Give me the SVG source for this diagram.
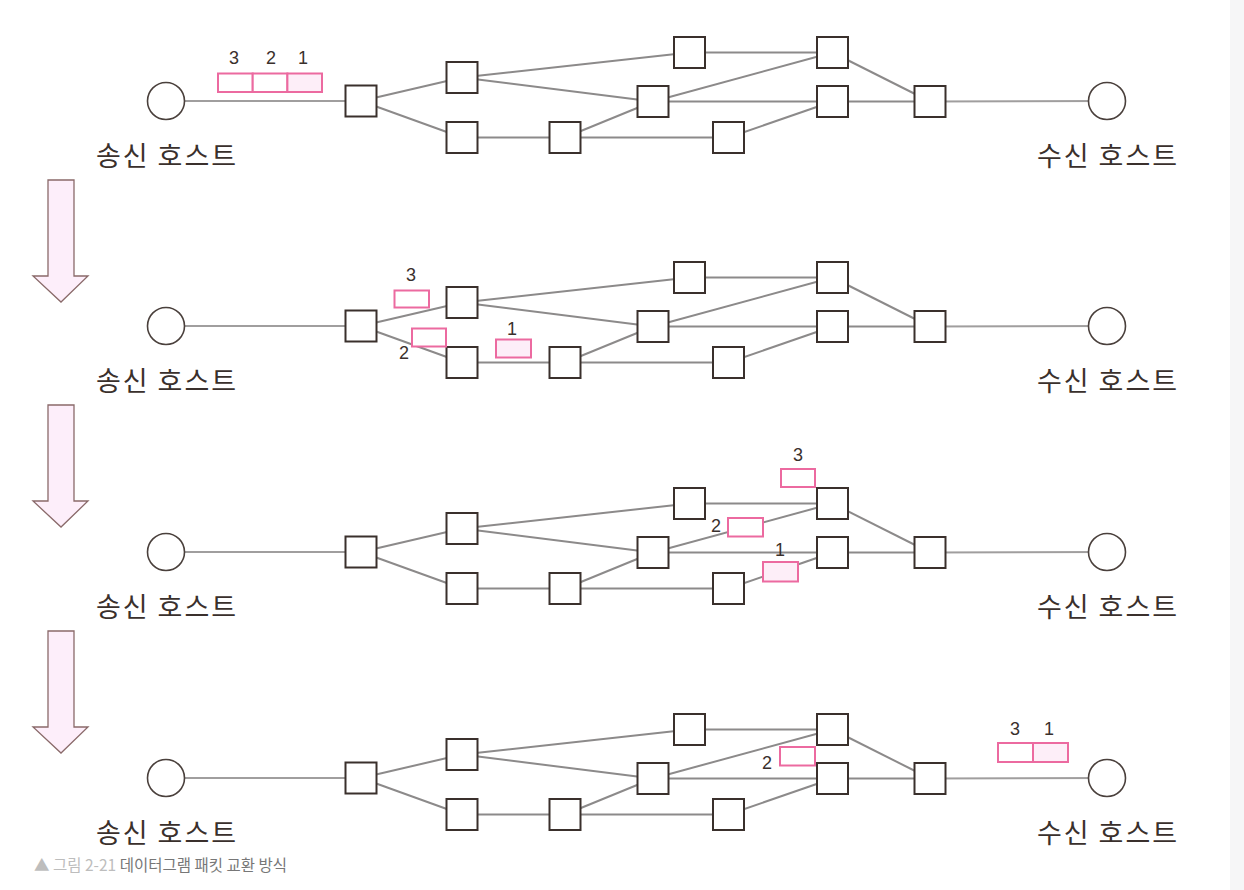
<svg xmlns="http://www.w3.org/2000/svg" width="1244" height="890" viewBox="0 0 1244 890">
<style>
.link{stroke:#8c8a8a;stroke-width:2;fill:none}
.hl{stroke:#a09e9e;stroke-width:2;fill:none}
.box{fill:#fff;stroke:#3a302c;stroke-width:2}
.host{fill:#fff;stroke:#4a403c;stroke-width:1.6}
.lbl{font-family:"Noto Sans CJK KR",sans-serif;font-size:27px;fill:#3a302c;text-anchor:middle;letter-spacing:2px}
.pk{fill:#fff;stroke:#ec6aa0;stroke-width:2}
.pkf{fill:#fdeef8;stroke:#ec6aa0;stroke-width:2}
.num{font-family:"Liberation Sans",sans-serif;font-size:18px;fill:#3a302c;text-anchor:middle}
.arr{fill:#fdeefa;stroke:#8a6a6a;stroke-width:1.3}
</style>
<defs>
<g id="links">
<line class="hl" x1="166" y1="101" x2="361" y2="101"/>
<line class="link" x1="361" y1="101" x2="462" y2="77.5"/>
<line class="link" x1="361" y1="101" x2="462" y2="137.5"/>
<line class="link" x1="462" y1="77.5" x2="689.5" y2="52.5"/>
<line class="link" x1="462" y1="77.5" x2="653" y2="101.5"/>
<line class="link" x1="462" y1="137.5" x2="565" y2="137.5"/>
<line class="link" x1="565" y1="137.5" x2="653" y2="101.5"/>
<line class="link" x1="565" y1="137.5" x2="728.5" y2="137.5"/>
<line class="link" x1="653" y1="101.5" x2="832.5" y2="52.5"/>
<line class="link" x1="653" y1="101.5" x2="832.5" y2="101.5"/>
<line class="link" x1="689.5" y1="52.5" x2="832.5" y2="52.5"/>
<line class="link" x1="728.5" y1="137.5" x2="832.5" y2="101.5"/>
<line class="link" x1="832.5" y1="52.5" x2="930" y2="101.5"/>
<line class="link" x1="832.5" y1="101.5" x2="930" y2="101.5"/>
<line class="hl" x1="930" y1="101.5" x2="1107" y2="101"/>
</g>
<path id="arrow" class="arr" d="M48,180 H74 V276 H88 L61,302 L33,276 H48 Z"/>
</defs>

<rect x="1230" y="0" width="14" height="890" fill="#f6f6f7"/>

<!-- connectors -->
<g id="connectors">
<use href="#links"/>
<use href="#links" transform="translate(0,225)"/>
<use href="#links" transform="translate(0,451)"/>
<use href="#links" transform="translate(0,677)"/>
</g>

<!-- panel 1 -->
<g id="panel1">
<g id="p1-sender"><circle class="host" cx="166" cy="101" r="18.5"/><text class="lbl" x="167" y="166">송신 호스트</text></g>
<g id="p1-A"><rect class="box" x="345.5" y="85.5" width="31" height="31"/></g>
<g id="p1-B"><rect class="box" x="446.5" y="62" width="31" height="31"/></g>
<g id="p1-C"><rect class="box" x="446.5" y="122" width="31" height="31"/></g>
<g id="p1-D"><rect class="box" x="549.5" y="122" width="31" height="31"/></g>
<g id="p1-E"><rect class="box" x="637.5" y="86" width="31" height="31"/></g>
<g id="p1-F"><rect class="box" x="674" y="37" width="31" height="31"/></g>
<g id="p1-G"><rect class="box" x="713" y="122" width="31" height="31"/></g>
<g id="p1-H"><rect class="box" x="817" y="37" width="31" height="31"/></g>
<g id="p1-I"><rect class="box" x="817" y="86" width="31" height="31"/></g>
<g id="p1-J"><rect class="box" x="914.5" y="86" width="31" height="31"/></g>
<g id="p1-receiver"><circle class="host" cx="1107" cy="101" r="18.5"/><text class="lbl" x="1108" y="166">수신 호스트</text></g>
</g>

<!-- panel 2 -->
<g id="panel2" transform="translate(0,225)">
<g id="p2-sender"><circle class="host" cx="166" cy="101" r="18.5"/><text class="lbl" x="167" y="166">송신 호스트</text></g>
<g id="p2-A"><rect class="box" x="345.5" y="85.5" width="31" height="31"/></g>
<g id="p2-B"><rect class="box" x="446.5" y="62" width="31" height="31"/></g>
<g id="p2-C"><rect class="box" x="446.5" y="122" width="31" height="31"/></g>
<g id="p2-D"><rect class="box" x="549.5" y="122" width="31" height="31"/></g>
<g id="p2-E"><rect class="box" x="637.5" y="86" width="31" height="31"/></g>
<g id="p2-F"><rect class="box" x="674" y="37" width="31" height="31"/></g>
<g id="p2-G"><rect class="box" x="713" y="122" width="31" height="31"/></g>
<g id="p2-H"><rect class="box" x="817" y="37" width="31" height="31"/></g>
<g id="p2-I"><rect class="box" x="817" y="86" width="31" height="31"/></g>
<g id="p2-J"><rect class="box" x="914.5" y="86" width="31" height="31"/></g>
<g id="p2-receiver"><circle class="host" cx="1107" cy="101" r="18.5"/><text class="lbl" x="1108" y="166">수신 호스트</text></g>
</g>

<!-- panel 3 -->
<g id="panel3" transform="translate(0,451)">
<g id="p3-sender"><circle class="host" cx="166" cy="101" r="18.5"/><text class="lbl" x="167" y="166">송신 호스트</text></g>
<g id="p3-A"><rect class="box" x="345.5" y="85.5" width="31" height="31"/></g>
<g id="p3-B"><rect class="box" x="446.5" y="62" width="31" height="31"/></g>
<g id="p3-C"><rect class="box" x="446.5" y="122" width="31" height="31"/></g>
<g id="p3-D"><rect class="box" x="549.5" y="122" width="31" height="31"/></g>
<g id="p3-E"><rect class="box" x="637.5" y="86" width="31" height="31"/></g>
<g id="p3-F"><rect class="box" x="674" y="37" width="31" height="31"/></g>
<g id="p3-G"><rect class="box" x="713" y="122" width="31" height="31"/></g>
<g id="p3-H"><rect class="box" x="817" y="37" width="31" height="31"/></g>
<g id="p3-I"><rect class="box" x="817" y="86" width="31" height="31"/></g>
<g id="p3-J"><rect class="box" x="914.5" y="86" width="31" height="31"/></g>
<g id="p3-receiver"><circle class="host" cx="1107" cy="101" r="18.5"/><text class="lbl" x="1108" y="166">수신 호스트</text></g>
</g>

<!-- panel 4 -->
<g id="panel4" transform="translate(0,677)">
<g id="p4-sender"><circle class="host" cx="166" cy="101" r="18.5"/><text class="lbl" x="167" y="166">송신 호스트</text></g>
<g id="p4-A"><rect class="box" x="345.5" y="85.5" width="31" height="31"/></g>
<g id="p4-B"><rect class="box" x="446.5" y="62" width="31" height="31"/></g>
<g id="p4-C"><rect class="box" x="446.5" y="122" width="31" height="31"/></g>
<g id="p4-D"><rect class="box" x="549.5" y="122" width="31" height="31"/></g>
<g id="p4-E"><rect class="box" x="637.5" y="86" width="31" height="31"/></g>
<g id="p4-F"><rect class="box" x="674" y="37" width="31" height="31"/></g>
<g id="p4-G"><rect class="box" x="713" y="122" width="31" height="31"/></g>
<g id="p4-H"><rect class="box" x="817" y="37" width="31" height="31"/></g>
<g id="p4-I"><rect class="box" x="817" y="86" width="31" height="31"/></g>
<g id="p4-J"><rect class="box" x="914.5" y="86" width="31" height="31"/></g>
<g id="p4-receiver"><circle class="host" cx="1107" cy="101" r="18.5"/><text class="lbl" x="1108" y="166">수신 호스트</text></g>
</g>

<!-- packets -->
<g id="packets">
<rect class="pk" x="218" y="73.5" width="34.7" height="18.5"/>
<rect class="pk" x="252.7" y="73.5" width="34.7" height="18.5"/>
<rect class="pkf" x="287.4" y="73.5" width="34.6" height="18.5"/>
<text class="num" x="234" y="64">3</text>
<text class="num" x="271" y="64">2</text>
<text class="num" x="303" y="64">1</text>

<rect class="pk" x="394.5" y="290.5" width="34.5" height="17"/>
<text class="num" x="411" y="281">3</text>
<rect class="pk" x="412" y="328.5" width="34" height="18"/>
<text class="num" x="404" y="359">2</text>
<rect class="pkf" x="496" y="339.5" width="35" height="18"/>
<text class="num" x="512" y="335">1</text>

<rect class="pk" x="781" y="469" width="34" height="18"/>
<text class="num" x="798" y="461">3</text>
<rect class="pk" x="728" y="518" width="35" height="18.5"/>
<text class="num" x="716" y="532">2</text>
<rect class="pkf" x="763" y="562" width="35" height="19.5"/>
<text class="num" x="780" y="556">1</text>

<rect class="pk" x="780" y="747" width="35" height="18.5"/>
<text class="num" x="767" y="769">2</text>
<rect class="pk" x="998" y="743" width="35" height="19"/>
<rect class="pkf" x="1033" y="743" width="35" height="19"/>
<text class="num" x="1015" y="735">3</text>
<text class="num" x="1049" y="735">1</text>
</g>

<!-- arrows -->
<g id="arrows">
<use href="#arrow"/>
<use href="#arrow" transform="translate(0,225)"/>
<use href="#arrow" transform="translate(0,451)"/>
</g>

<!-- caption -->
<text x="34" y="871" font-family="'Noto Sans CJK KR',sans-serif" font-size="15.5"><tspan fill="#bdbdbd">▲ 그림 2-21 </tspan><tspan fill="#777">데이터그램 패킷 교환 방식</tspan></text>
</svg>
